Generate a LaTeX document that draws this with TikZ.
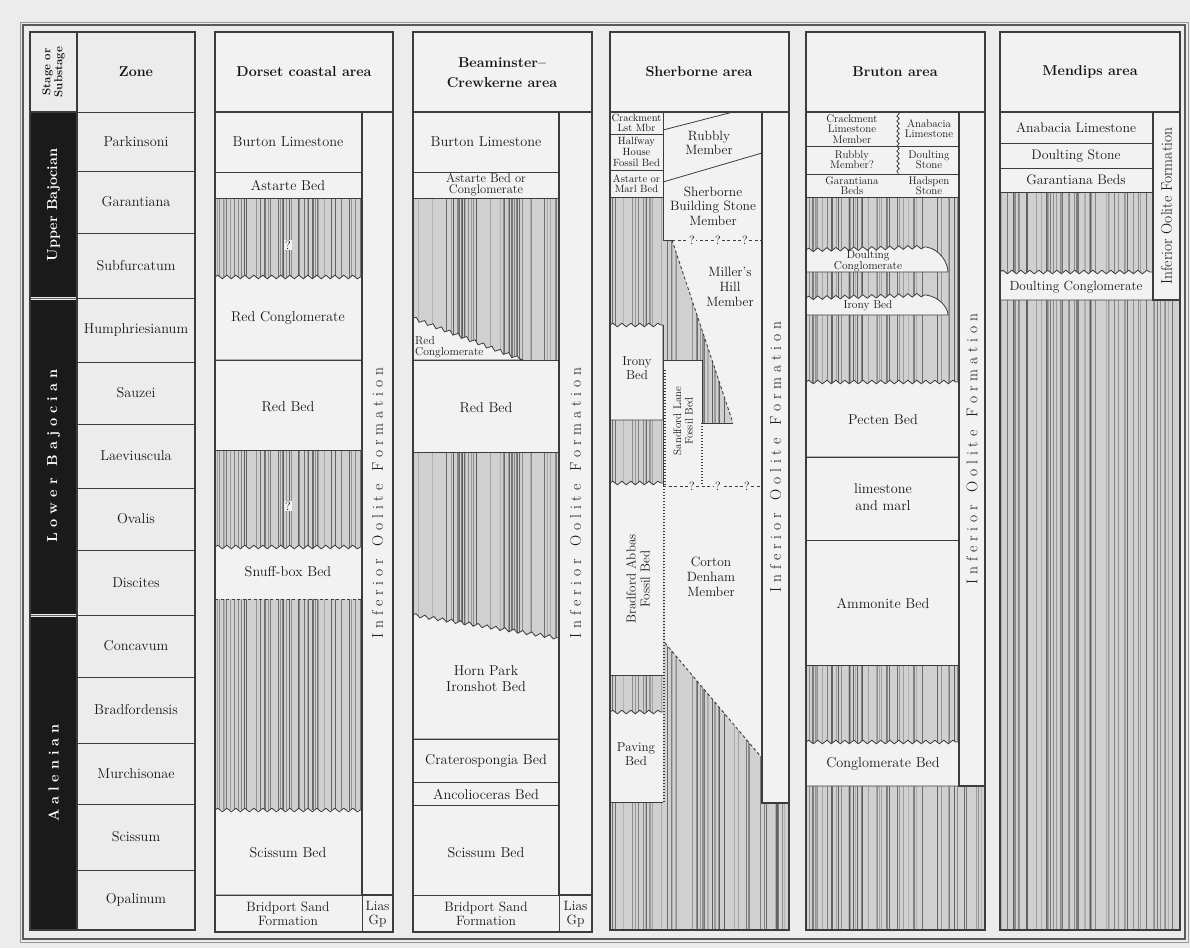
\documentclass[tikz,border=0pt]{standalone}
\usepackage{fontspec}
\usetikzlibrary{decorations.pathmorphing}
\definecolor{bg}{HTML}{ECECEC}
\definecolor{boxfill}{HTML}{F2F2F2}
\definecolor{ln}{HTML}{3C3C3C}
\definecolor{hatchbase}{HTML}{D0D0D0}
\definecolor{stagebk}{HTML}{1A1A1A}
\newdimen\sprk
\def\spr#1{\sprx#1\relax\kern-\sprk}
\def\sprx#1{\ifx\relax#1\else#1\kern\sprk\expandafter\sprx\fi}
\newcommand\iof{{\sprk=4.8pt\spr{Inferior}\hspace{13pt}\spr{Oolite}\hspace{13pt}\spr{Formation}}}
\newcommand\hatchzone[4]{%
  \fill[hatchbase] (#1,#2) rectangle (#3,#4);
  \pgfmathsetseed{#1}%
  \pgfmathtruncatemacro\nlines{(#3-#1)/3.0}%
  \foreach \k in {1,...,\nlines}{%
    \pgfmathsetmacro\xx{#1+rnd*(#3-#1)}%
    \pgfmathsetmacro\ww{0.25+0.9*rnd*rnd}%
    \pgfmathtruncatemacro\gg{30+35*rnd}%
    \draw[line width=\ww pt, black!\gg] (\xx,#2) -- (\xx,#4);
  }}
\tikzset{
  lbl/.style={font=\fontsize{14.3}{16}\selectfont, align=center, inner sep=0pt, text=black!90},
  mid/.style={font=\fontsize{12.5}{11}\selectfont, align=center, inner sep=0pt, text=black!90},
  sml/.style={font=\fontsize{10.5}{9.8}\selectfont, align=center, inner sep=0pt, text=black!90},
  hdr/.style={font=\bfseries\fontsize{14.3}{20}\selectfont, align=center, inner sep=0pt, text=black!92},
  stagetxt/.style={rotate=90, text=white, font=\bfseries\fontsize{14.5}{15}\selectfont, inner sep=0pt},
  striptxt/.style={rotate=90, font=\fontsize{15.5}{16}\selectfont, inner sep=0pt, text=black!90},
  boxd/.style={fill=boxfill, draw=ln, line width=0.8pt},
  col/.style={draw=ln, line width=1.1pt},
  thinl/.style={draw=ln, line width=0.8pt},
  dsh/.style={draw=ln, line width=0.9pt, dash pattern=on 3pt off 2.5pt},
  dot/.style={draw=ln, line width=1.1pt, dash pattern=on 1.2pt off 1.8pt},
  qm/.style={fill=boxfill, inner sep=1pt, font=\fontsize{12}{12}\selectfont},
  wavy/.style={decoration={snake, segment length=9pt, amplitude=1.8pt}}
}
\begin{document}
\begin{tikzpicture}[x=1pt,y=-1pt]
\useasboundingbox (0,0) rectangle (1190,948);
\fill[bg] (0,0) rectangle (1190,948);
\draw[black!40, line width=0.8pt] (20,22) rectangle (1188,942);
\draw[black!65, line width=1.3pt] (23,25) rectangle (1185,939);

% ---------------- Stage column
\fill[stagebk] (30,112) rectangle (77,296.5);
\fill[stagebk] (30,299.5) rectangle (77,613.5);
\fill[stagebk] (30,616.5) rectangle (77,930);
\draw[black!60, line width=0.5pt] (30,298) -- (77,298) (30,615) -- (77,615);
\draw[col] (30,32) rectangle (77,930);
\draw[col] (30,112) -- (77,112);
\node[hdr, rotate=90, font=\bfseries\fontsize{11.5}{12}\selectfont] (stagehdr) at (53.5,72) {Stage or\\Substage};
\node[stagetxt] (upper) at (53.5,205) {Upper Bajocian};
\node[stagetxt] (lower) at (53.5,456) {\sprk=5pt\spr{Lower}\hspace{12pt}\spr{Bajocian}};
\node[stagetxt] (aalen) at (53.5,773) {\sprk=5pt\spr{Aalenian}};

% ---------------- Zone column
\draw[col] (77,32) rectangle (195,930);
\foreach \yy in {112,171,233,298,362,424,488,550,615,677,743,804,870}
  \draw[thinl] (77,\yy) -- (195,\yy);
\node[hdr] (zonehdr) at (136,72) {Zone};
\foreach \nm/\yy [count=\i] in {Parkinsoni/141.5,Garantiana/202,Subfurcatum/265.5,Humphriesianum/330,Sauzei/393,Laeviuscula/456,Ovalis/519,Discites/582.5,Concavum/646,Bradfordensis/710,Murchisonae/773.5,Scissum/837,Opalinum/900}
  \node[lbl] (zone\i) at (136,\yy) {\nm};

% ---------------- Dorset coastal area
\hatchzone{215}{198}{362}{810}
\filldraw[col, fill=boxfill] (215,32) rectangle (393,112);
\node[hdr] (dorhdr) at (304,72) {Dorset coastal area};
\filldraw[boxd] (215,112) rectangle (362,172);
\filldraw[boxd] (215,172) rectangle (362,198);
\filldraw[boxd] (215,277) decorate[wavy]{-- (362,277)} -- (362,360) -- (215,360) -- cycle;
\filldraw[boxd] (215,360) rectangle (362,450);
\fill[boxfill] (215,547) decorate[wavy]{-- (362,547)} -- (362,599) -- (215,599) -- cycle;
\draw[thinl] (215,547) decorate[wavy]{-- (362,547)};
\draw[dsh] (215,599) -- (362,599);
\filldraw[boxd] (215,810) decorate[wavy]{-- (362,810)} -- (362,895) -- (215,895) -- cycle;
\filldraw[boxd] (215,895) rectangle (362,932);
\filldraw[boxd] (362,895) rectangle (393,932);
\filldraw[col, fill=boxfill] (362,112) rectangle (393,895);
\draw[col] (215,112) rectangle (393,932);
\node[lbl] (dor1) at (288,142) {Burton Limestone};
\node[lbl] (dor2) at (288,185) {Astarte Bed};
\node[qm] (dorq1) at (288,245) {?};
\node[lbl] (dor3) at (288,318) {Red Conglomerate};
\node[lbl] (dor4) at (288,407) {Red Bed};
\node[qm] (dorq2) at (288,506) {?};
\node[lbl] (dor5) at (288,572) {Snuff-box Bed};
\node[lbl] (dor6) at (288,853) {Scissum Bed};
\node[lbl, font=\fontsize{13.5}{14}\selectfont] (dor7) at (288,914) {Bridport Sand\\Formation};
\node[lbl, font=\fontsize{13.5}{14}\selectfont] (dor8) at (377.5,914) {Lias\\Gp};
\node[striptxt] (dorio) at (377.5,503) {\iof};

% ---------------- Beaminster-Crewkerne area
\hatchzone{413}{198}{559}{739}
\filldraw[col, fill=boxfill] (413,32) rectangle (592,112);
\node[hdr] (beahdr) at (502,73) {Beaminster--\\Crewkerne area};
\filldraw[boxd] (413,112) rectangle (559,172);
\filldraw[boxd] (413,172) rectangle (559,198);
\filldraw[boxd] (413,318) decorate[wavy]{-- (523,360)} -- (413,360) -- cycle;
\filldraw[boxd] (413,360) rectangle (559,452);
\filldraw[boxd] (413,615) decorate[wavy]{-- (559,638)} -- (559,739) -- (413,739) -- cycle;
\filldraw[boxd] (413,739) rectangle (559,782);
\filldraw[boxd] (413,782) rectangle (559,805);
\filldraw[boxd] (413,805) rectangle (559,895);
\filldraw[boxd] (413,895) rectangle (559,932);
\filldraw[boxd] (559,895) rectangle (592,932);
\filldraw[col, fill=boxfill] (559,112) rectangle (592,895);
\draw[col] (413,112) rectangle (592,932);
\node[lbl] (bea1) at (486,142) {Burton Limestone};
\node[mid] (bea2) at (486,185) {Astarte Bed or\\Conglomerate};
\node[sml, anchor=west, align=left, font=\fontsize{11.5}{11}\selectfont] (bea3) at (415,347) {Red\\Conglomerate};
\node[lbl] (bea4) at (486,408) {Red Bed};
\node[lbl] (bea5) at (486,679) {Horn Park\\Ironshot Bed};
\node[lbl] (bea6) at (486,761) {Craterospongia Bed};
\node[lbl] (bea7) at (486,794) {Ancolioceras Bed};
\node[lbl] (bea8) at (486,853) {Scissum Bed};
\node[lbl, font=\fontsize{13.5}{14}\selectfont] (bea9) at (486,914) {Bridport Sand\\Formation};
\node[lbl, font=\fontsize{13.5}{14}\selectfont] (bea10) at (575.5,914) {Lias\\Gp};
\node[striptxt] (beaio) at (575.5,503) {\iof};

% ---------------- Sherborne area
\hatchzone{610}{197}{762}{930}
\hatchzone{762}{803}{789}{930}
\filldraw[col, fill=boxfill] (610,32) rectangle (789,112);
\node[hdr] (sherhdr) at (699,72) {Sherborne area};
\filldraw[boxd] (610,112) rectangle (663,134);
\filldraw[boxd] (610,134) rectangle (663,170);
\filldraw[boxd] (610,170) rectangle (663,197);
\fill[boxfill] (663,112) rectangle (762,240);
\draw[thinl] (663,130) -- (733,112);
\draw[thinl] (663,182) -- (762,153);
\draw[ln, line width=0.9pt] (663,112) -- (663,240) -- (672,240);
\fill[boxfill] (672,240) -- (762,240) -- (762,486) -- (702,486) -- (702,423) -- (733,423) -- cycle;
\draw[dsh] (672,240) -- (733,423);
\fill[boxfill] (663,360) rectangle (702,486);
\draw[ln, line width=0.9pt] (663,360) -- (702,360) -- (702,423) -- (733,423);
\draw[dot] (702,423) -- (702,486);
\filldraw[boxd] (610,325) decorate[wavy]{-- (663,325)} -- (663,420) -- (610,420) -- cycle;
\fill[boxfill] (610,483) decorate[wavy]{-- (663,483)} -- (663,675) -- (610,675) -- cycle;
\draw[thinl] (610,483) decorate[wavy]{-- (663,483)};
\draw[thinl] (610,675) -- (663,675);
\fill[boxfill] (663,486) -- (762,486) -- (762,758) -- (665,643) -- cycle;
\draw[dsh] (665,643) -- (762,758);
\fill[boxfill] (610,712) decorate[wavy]{-- (663,712)} -- (663,802) -- (610,802) -- cycle;
\draw[thinl] (610,712) decorate[wavy]{-- (663,712)};
\draw[thinl] (610,802) -- (663,802);
\draw[ln, line width=0.9pt] (663,325) -- (663,486);
\draw[dot] (664,486) -- (664,802);
\draw[dot] (665,370) -- (665,486);
\draw[dsh] (672,240) -- (762,240);
\draw[dsh] (663,486) -- (762,486);
\node[qm] (shq1) at (692,240) {?};
\node[qm] (shq2) at (718,240) {?};
\node[qm] (shq3) at (745,240) {?};
\node[qm] (shq4) at (692,486) {?};
\node[qm] (shq5) at (718,486) {?};
\node[qm] (shq6) at (747,486) {?};
\filldraw[col, fill=boxfill] (762,112) rectangle (789,803);
\draw[col] (610,112) rectangle (789,930);
\node[sml] (sh1) at (636.5,123) {Crackment\\Lst Mbr};
\node[sml, font=\fontsize{10.5}{10.8}\selectfont] (sh2) at (636.5,152) {Halfway\\House\\Fossil Bed};
\node[sml] (sh3) at (636.5,183.5) {Astarte or\\Marl Bed};
\node[lbl, font=\fontsize{13.5}{14}\selectfont] (sh4) at (709,143) {Rubbly\\Member};
\node[lbl, font=\fontsize{13.5}{14.5}\selectfont] (sh5) at (713,206) {Sherborne\\Building Stone\\Member};
\node[lbl, font=\fontsize{13.5}{15}\selectfont] (sh6) at (730,287) {Miller's\\Hill\\Member};
\node[lbl, font=\fontsize{13}{14}\selectfont] (sh7) at (637,368) {Irony\\Bed};
\node[sml, rotate=90, font=\fontsize{11}{11.5}\selectfont] (sh8) at (683,421) {Sandford Lane\\Fossil Bed};
\node[lbl, rotate=90, font=\fontsize{13}{14}\selectfont] (sh9) at (638,579) {Bradford Abbas\\Fossil Bed};
\node[lbl, font=\fontsize{13.5}{15}\selectfont] (sh10) at (711,577) {Corton\\Denham\\Member};
\node[lbl, font=\fontsize{13}{14}\selectfont] (sh11) at (636,754) {Paving\\Bed};
\node[striptxt] (sherio) at (775.5,457) {\iof};

% ---------------- Bruton area
\hatchzone{806}{197}{959}{930}
\hatchzone{959}{786}{985}{930}
\filldraw[col, fill=boxfill] (806,32) rectangle (985,112);
\node[hdr] (bruhdr) at (895,72) {Bruton area};
\filldraw[boxd] (806,112) rectangle (959,197);
\draw[thinl] (806,146) -- (959,146);
\draw[thinl] (806,174) -- (959,174);
\draw[ln, line width=0.8pt, decorate, decoration={snake, segment length=5pt, amplitude=1.2pt}] (898,112) -- (898,174);
\filldraw[boxd] (806,272) -- (806,250) decorate[wavy]{-- (926,247)} .. controls (940,249) and (948,263) .. (948,272) -- cycle;
\filldraw[boxd] (806,315) -- (806,298) decorate[wavy]{-- (926,295)} .. controls (940,297) and (948,308) .. (948,315) -- cycle;
\filldraw[boxd] (806,382) decorate[wavy]{-- (959,382)} -- (959,457) -- (806,457) -- cycle;
\filldraw[boxd] (806,457) rectangle (959,540);
\filldraw[boxd] (806,540) rectangle (959,665);
\filldraw[boxd] (806,742) decorate[wavy]{-- (959,742)} -- (959,786) -- (806,786) -- cycle;
\filldraw[col, fill=boxfill] (959,112) rectangle (985,786);
\draw[col] (806,112) rectangle (985,930);
\node[sml, font=\fontsize{11}{10.2}\selectfont] (bru1) at (852,129) {Crackment\\Limestone\\Member};
\node[sml, font=\fontsize{11}{10.2}\selectfont] (bru2) at (929,129) {Anabacia\\Limestone};
\node[sml, font=\fontsize{11}{10.2}\selectfont] (bru3) at (852,160) {Rubbly\\Member?};
\node[sml, font=\fontsize{11}{10.2}\selectfont] (bru4) at (929,160) {Doulting\\Stone};
\node[sml, font=\fontsize{11}{10.2}\selectfont] (bru5) at (852,186) {Garantiana\\Beds};
\node[sml, font=\fontsize{11}{10.2}\selectfont] (bru6) at (929,186) {Hadspen\\Stone};
\node[sml, font=\fontsize{11.5}{11}\selectfont] (bru7) at (868,261) {Doulting\\Conglomerate};
\node[sml, font=\fontsize{11.5}{11}\selectfont] (bru8) at (868,306) {Irony Bed};
\node[lbl] (bru9) at (883,420) {Pecten Bed};
\node[lbl, font=\fontsize{14.3}{17}\selectfont] (bru10) at (883,497) {limestone\\and marl};
\node[lbl] (bru11) at (883,603) {Ammonite Bed};
\node[lbl] (bru12) at (883,764) {Conglomerate Bed};
\node[striptxt] (bruio) at (972,449) {\iof};

% ---------------- Mendips area
\hatchzone{1000}{192}{1180}{930}
\filldraw[col, fill=boxfill] (1000,32) rectangle (1180,112);
\node[hdr] (menhdr) at (1090,72) {Mendips area};
\filldraw[boxd] (1000,112) rectangle (1153,143);
\filldraw[boxd] (1000,143) rectangle (1153,168);
\filldraw[boxd] (1000,168) rectangle (1153,192);
\filldraw[boxd] (1000,272) decorate[wavy]{-- (1153,272)} -- (1153,300) -- (1000,300) -- cycle;
\filldraw[col, fill=boxfill] (1153,112) rectangle (1180,300);
\draw[col] (1000,112) rectangle (1180,930);
\node[lbl, font=\fontsize{13.8}{14}\selectfont] (men1) at (1076,128) {Anabacia Limestone};
\node[lbl, font=\fontsize{13.8}{14}\selectfont] (men2) at (1076,156) {Doulting Stone};
\node[lbl, font=\fontsize{13.8}{14}\selectfont] (men3) at (1076,180) {Garantiana Beds};
\node[lbl, font=\fontsize{13.3}{14}\selectfont] (men4) at (1076,287) {Doulting Conglomerate};
\node[striptxt] (menio) at (1166.5,206) {Inferior Oolite Formation};
\end{tikzpicture}
\end{document}
